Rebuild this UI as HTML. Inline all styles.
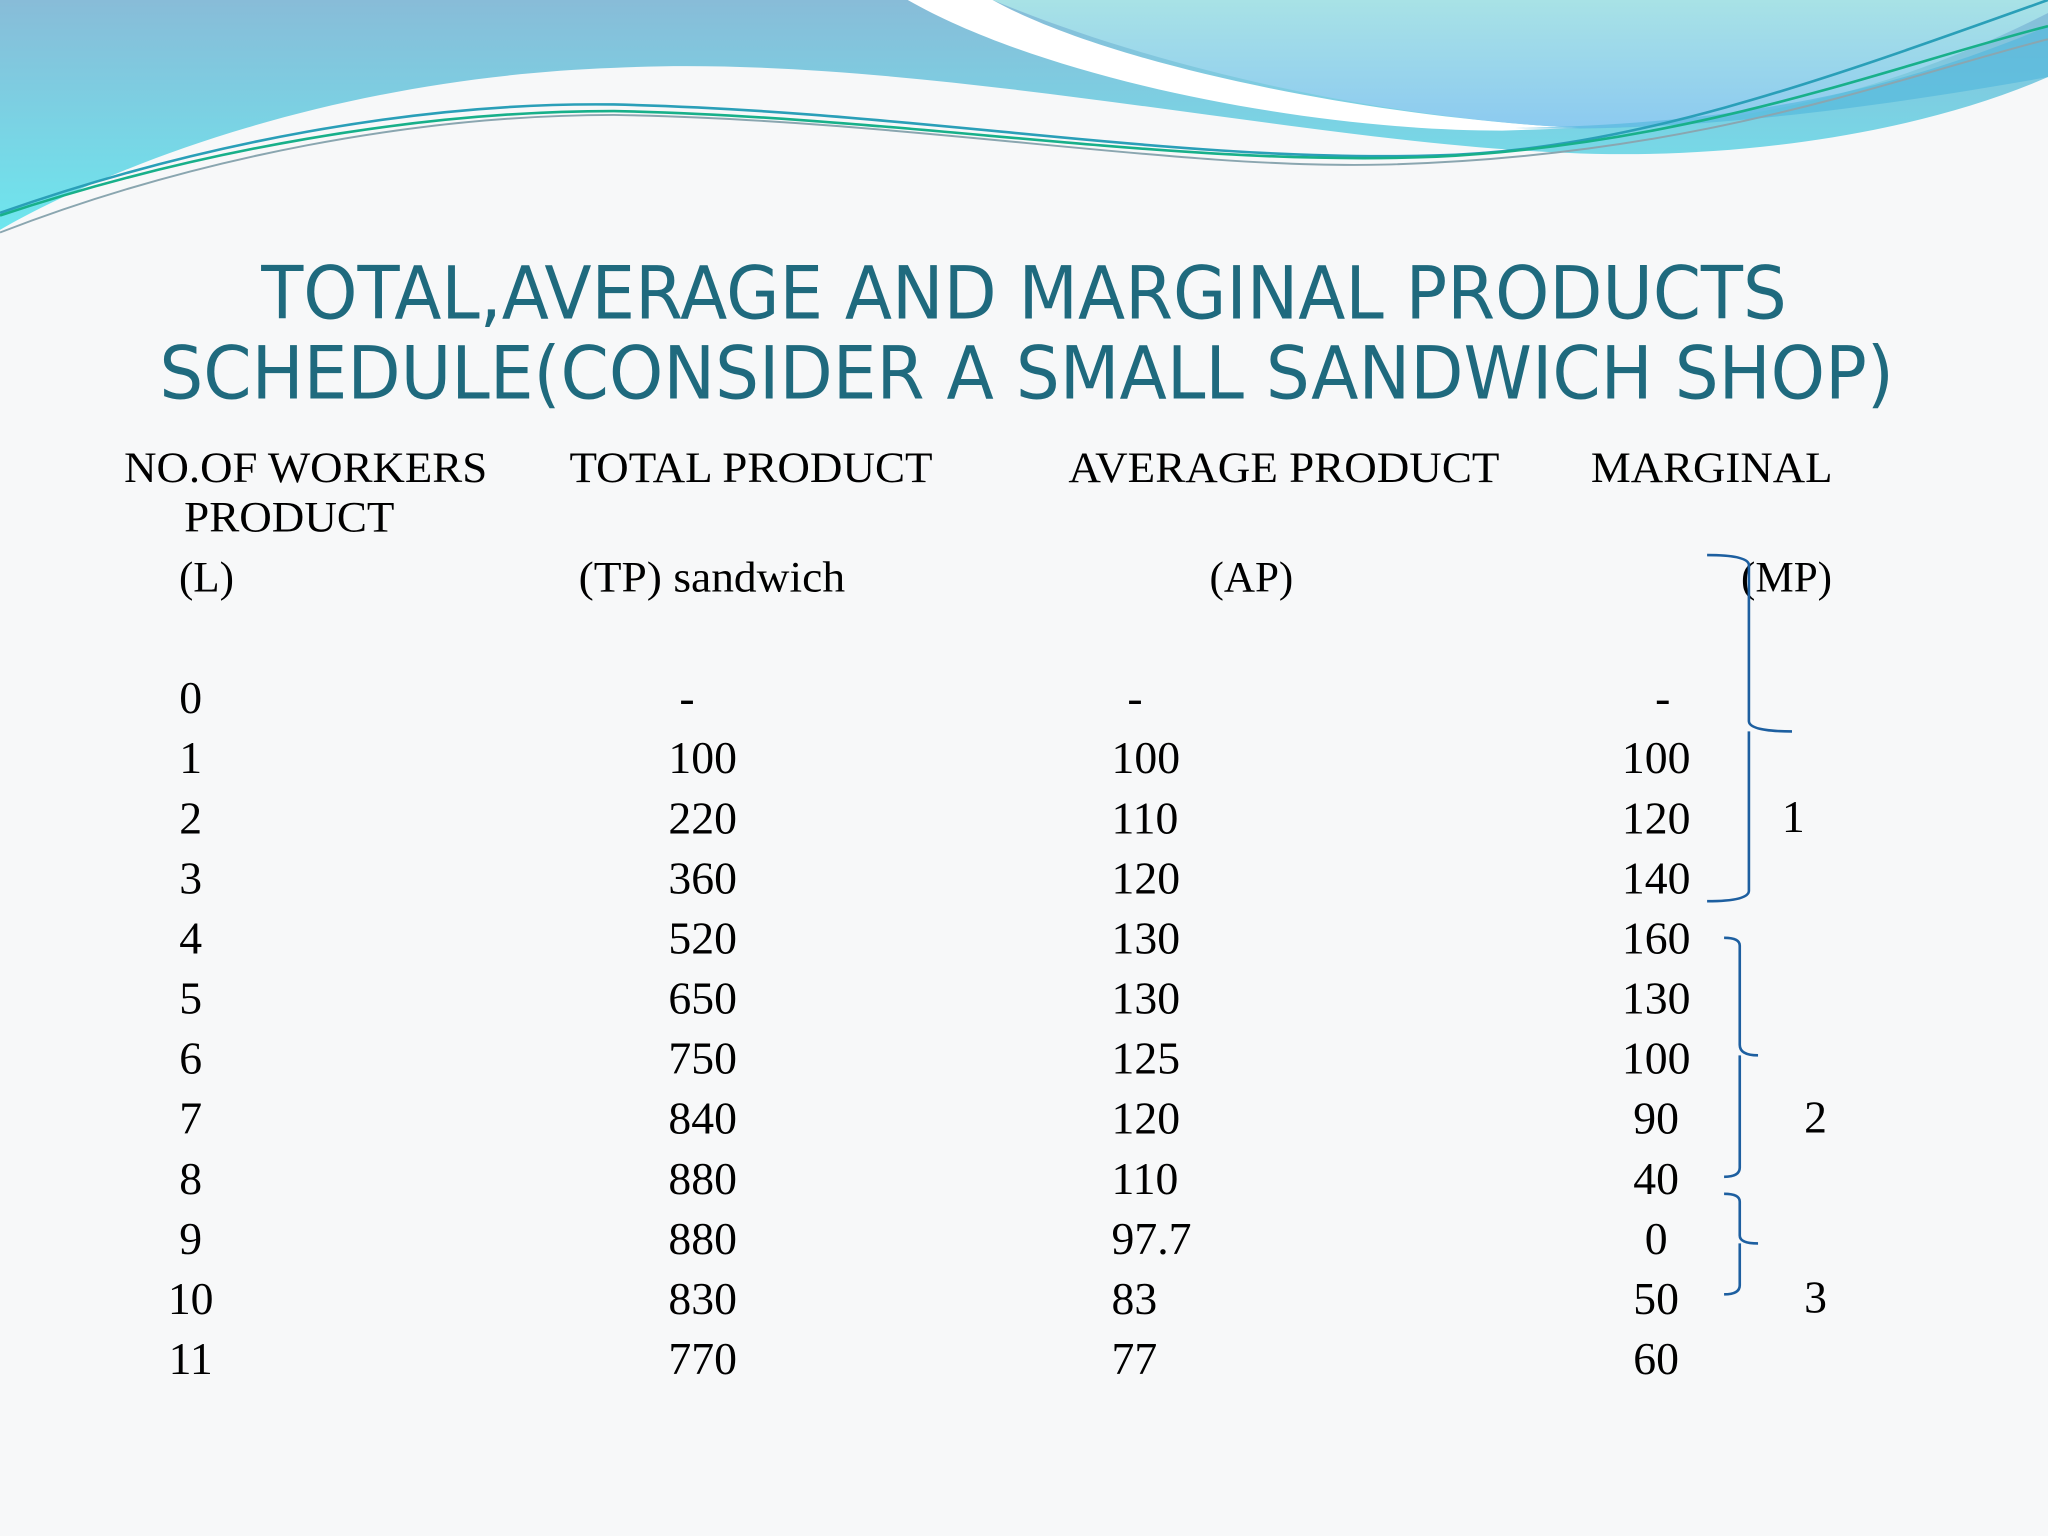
<!DOCTYPE html>
<html><head><meta charset="utf-8"><style>
html,body{margin:0;padding:0;background:#f7f8f9;}
svg{display:block;}
</style></head><body>
<svg width="2048" height="1536" viewBox="0 0 1568 1176" xmlns="http://www.w3.org/2000/svg">
<defs>
<linearGradient id="gL" x1="0" y1="0" x2="0" y2="1"><stop offset="0" stop-color="#88bcd8"/><stop offset="1" stop-color="#6ee6ee"/></linearGradient>
<linearGradient id="gR" x1="0" y1="0" x2="0" y2="1"><stop offset="0" stop-color="#a8e2e6"/><stop offset="1" stop-color="#8ccaf0"/></linearGradient>
</defs>
<rect width="1568" height="1176" fill="#f7f8f9"/>
<g>
<path d="M0,0 H1568 V59 C1450,110 1300,122 1200,117 C1000,110 700,40 470,52 C250,60 80,130 0,176 Z" fill="url(#gL)"/>
<path d="M695,0 C800,60 1000,100 1150,100 L1210,98 C1050,90 850,50 760,0 Z" fill="#ffffff"/>
<path d="M760,0 H1568 V10 C1450,70 1330,98 1210,98 C1050,90 880,50 760,0 Z" fill="url(#gR)"/>
<path d="M1568,20 C1450,70 1330,95 1160,98 C1300,102 1450,80 1568,59 Z" fill="#4eb6dc" opacity="0.6"/>
<path d="M0,163 C150,110 320,78 470,80 C700,85 900,125 1100,119 C1250,115 1400,60 1568,0" fill="none" stroke="#2a9fb8" stroke-width="2"/>
<path d="M0,165 C150,115 320,85 470,85 C700,90 900,128 1100,120 C1300,110 1450,50 1568,20" fill="none" stroke="#18b08a" stroke-width="2"/>
<path d="M0,178 C150,120 320,88 470,88 C700,92 900,130 1060,126 C1300,120 1450,60 1568,30" fill="none" stroke="#8aa6b0" stroke-width="1.5"/>
</g>
<g font-family="'Comic Sans MS','DejaVu Sans',sans-serif" font-size="56" fill="#1f6a7e">
<text x="200" y="244" textLength="1168" lengthAdjust="spacingAndGlyphs">TOTAL,AVERAGE AND MARGINAL PRODUCTS</text>
<text x="122" y="305" textLength="1328" lengthAdjust="spacingAndGlyphs">SCHEDULE(CONSIDER A SMALL SANDWICH SHOP)</text>
</g>
<g font-family="'Liberation Serif',serif" font-size="33" fill="#000">
<text x="95" y="369" textLength="278" lengthAdjust="spacingAndGlyphs">NO.OF WORKERS</text>
<text x="436" y="369" textLength="278" lengthAdjust="spacingAndGlyphs">TOTAL PRODUCT</text>
<text x="818" y="369" textLength="330" lengthAdjust="spacingAndGlyphs">AVERAGE PRODUCT</text>
<text x="1218" y="369" textLength="185" lengthAdjust="spacingAndGlyphs">MARGINAL</text>
<text x="141" y="407" textLength="161" lengthAdjust="spacingAndGlyphs">PRODUCT</text>
<text x="137" y="453">(L)</text>
<text x="443" y="453" textLength="204" lengthAdjust="spacingAndGlyphs">(TP) sandwich</text>
<text x="926" y="453">(AP)</text>
<text x="1333" y="453">(MP)</text>
</g>
<g id="rows" font-family="'Liberation Serif',serif" font-size="35" fill="#000"></g>
<g fill="none" stroke="#1d5fa0" stroke-width="2">
<path d="M1307,425 Q1337,425 1339,432 V552 Q1339,560 1372,560 M1339,560 Q1339,566 1339,572 V682 Q1339,690 1307,690"/>
<path d="M1320,718 Q1332,718 1332,724 V800 Q1332,808 1346,808 M1332,808 V894 Q1332,901 1320,901"/>
<path d="M1320,914 Q1332,914 1332,920 V946 Q1332,952 1346,952 M1332,952 V984 Q1332,991 1320,991"/>
</g>
<g font-family="'Liberation Serif',serif" font-size="35" fill="#000" text-anchor="middle">
<text x="1373" y="637">1</text>
<text x="1390" y="867">2</text>
<text x="1390" y="1005">3</text>
</g>
</svg>
<script>
const workers = ["0","1","2","3","4","5","6","7","8","9","10","11"];
const totalProduct = ["-","100","220","360","520","650","750","840","880","880","830","770"];
const averageProduct = ["-","100","110","120","130","130","125","120","110","97.7","83","77"];
const marginalProduct = ["-","100","120","140","160","130","100","90","40","0","50","60"];
const g = document.getElementById('rows');
const NS = 'http://www.w3.org/2000/svg';
function rowY(i){ return 546 + i*46; }
function cell(txt, x, y, anchor, name){
  const t = document.createElementNS(NS,'text');
  t.setAttribute('x', x); t.setAttribute('y', y);
  t.setAttribute('text-anchor', anchor);
  t.textContent = txt;
  
  
  g.appendChild(t);
}
workers.forEach((w,i)=>{
  const y = rowY(i);
  cell(w, 146, y, 'middle', 'workers-cell');
  cell(totalProduct[i], totalProduct[i]==='-'?526:538, y, 'middle', 'tp-cell');
  if (averageProduct[i]==='-') cell('-', 869, y, 'middle', 'ap-cell');
  else cell(averageProduct[i], 851, y, 'start', 'ap-cell');
  cell(marginalProduct[i], marginalProduct[i]==='-'?1273:1268, y, 'middle', 'mp-cell');
});
</script>
</body></html>
